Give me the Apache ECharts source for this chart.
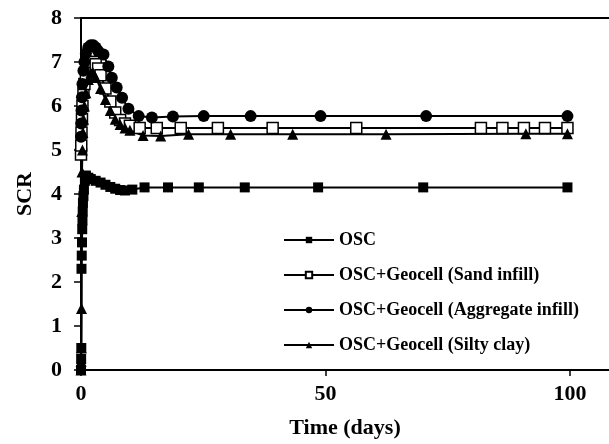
<!DOCTYPE html>
<html>
<head>
<meta charset="utf-8">
<script src="https://cdn.jsdelivr.net/npm/echarts@6/dist/echarts.min.js"></script>
<style>
  html, body { margin: 0; padding: 0; background: #fff; }
  #chart { width: 609px; height: 444px; }
</style>
</head>
<body>
<div id="chart"></div>
<script>
// Stone column ratio (SCR) versus consolidation time, four column types.
var seriesNames = [
  'OSC',
  'OSC+Geocell (Sand infill)',
  'OSC+Geocell (Aggregate infill)',
  'OSC+Geocell (Silty clay)'
];

// OSC (ordinary stone column)
var oscTime = [0, 0.03, 0.06, 0.1, 0.15, 0.2, 0.25, 0.3, 0.35, 0.4, 0.5, 0.6, 0.8, 1.0, 1.5, 2, 3, 4, 5, 6, 7, 8, 9, 10.5, 13, 17.8, 24.1, 33.5, 48.5, 70, 99.5];
var oscScr  = [0, 0.25, 0.5, 2.3, 2.6, 2.9, 3.2, 3.4, 3.6, 3.8, 3.95, 4.1, 4.3, 4.42, 4.37, 4.34, 4.3, 4.26, 4.21, 4.16, 4.12, 4.09, 4.08, 4.1, 4.15, 4.15, 4.15, 4.15, 4.15, 4.15, 4.15];

// Geocell-encased, sand infill
var sandTime = [0, 0.05, 0.1, 0.2, 0.3, 0.5, 0.7, 1.0, 1.5, 2, 2.5, 3, 3.5, 4, 5, 6, 7, 8, 9, 10, 12, 15.5, 20.4, 28, 39.2, 56.3, 81.8, 86.2, 90.6, 94.9, 99.5];
var sandScr  = [4.9, 5.1, 5.4, 5.7, 6.0, 6.3, 6.5, 6.7, 6.9, 7.0, 7.0, 6.95, 6.85, 6.7, 6.4, 6.1, 5.85, 5.68, 5.6, 5.55, 5.5, 5.5, 5.5, 5.5, 5.5, 5.5, 5.5, 5.5, 5.5, 5.5, 5.5];

// Geocell-encased, aggregate infill
var aggTime = [0, 0.05, 0.1, 0.2, 0.3, 0.5, 0.7, 1.0, 1.5, 2, 2.5, 3, 3.5, 4.6, 5.6, 6.3, 7.3, 8.4, 9.7, 11.8, 14.5, 18.8, 25.1, 34.7, 49, 70.6, 99.5];
var aggScr  = [5.3, 5.6, 5.9, 6.2, 6.5, 6.8, 7.0, 7.2, 7.33, 7.38, 7.38, 7.33, 7.25, 7.17, 6.9, 6.64, 6.42, 6.19, 5.94, 5.77, 5.74, 5.76, 5.77, 5.77, 5.77, 5.77, 5.77];

// Geocell-encased, silty clay infill
var clayTime = [0, 0.03, 0.06, 0.1, 0.15, 0.2, 0.3, 0.4, 0.5, 0.7, 1.0, 1.5, 2, 2.5, 3, 4, 5, 6, 7, 8, 9, 10, 12.7, 16.3, 22, 30.6, 43.3, 62.4, 91, 99.5];
var clayScr  = [0, 0.2, 0.5, 1.4, 3.6, 4.5, 5.0, 5.4, 5.7, 6.0, 6.3, 6.6, 6.75, 6.75, 6.65, 6.4, 6.15, 5.9, 5.7, 5.58, 5.5, 5.45, 5.33, 5.32, 5.36, 5.36, 5.36, 5.36, 5.37, 5.37];

var xTicks = [0, 50, 100];
var yTicks = [0, 1, 2, 3, 4, 5, 6, 7, 8];

function pairs(t, v) {
  return t.map(function (x, i) { return [x, v[i]]; });
}

var FONT = '"Liberation Serif", "Times New Roman", serif';

var chart = echarts.init(document.getElementById('chart'), null, { renderer: 'canvas' });

function lineSeries(name, t, v, symbol, size, fill) {
  return {
    name: name,
    type: 'line',
    data: pairs(t, v),
    symbol: symbol,
    symbolSize: size,
    showAllSymbol: true,
    lineStyle: { color: '#000', width: 2 },
    itemStyle: { color: fill, borderColor: '#000', borderWidth: fill === '#fff' ? 1.5 : 0 },
    emphasis: { disabled: true },
    animation: false,
    z: 3
  };
}

chart.setOption({
  animation: false,
  backgroundColor: '#fff',
  grid: { left: 81, right: 0, top: 18, bottom: 73, containLabel: false },
  xAxis: [{
    type: 'value',
    min: 0,
    max: 108,
    interval: 50,
    position: 'bottom',
    name: 'Time (days)',
    nameLocation: 'middle',
    nameGap: 47,
    nameTextStyle: { fontFamily: FONT, fontWeight: 'bold', fontSize: 22, color: '#000' },
    axisLine: { show: true, onZero: false, lineStyle: { color: '#000', width: 2 } },
    axisTick: { show: true, inside: false, length: 6, lineStyle: { color: '#000', width: 1.5 }, customValues: xTicks },
    axisLabel: { fontFamily: FONT, fontWeight: 'bold', fontSize: 22, color: '#000', margin: 13, customValues: xTicks },
    splitLine: { show: false }
  }, {
    type: 'value',
    min: 0,
    max: 108,
    position: 'top',
    axisLine: { show: true, onZero: false, lineStyle: { color: '#000', width: 2 } },
    axisTick: { show: false },
    axisLabel: { show: false },
    splitLine: { show: false }
  }],
  yAxis: {
    type: 'value',
    min: 0,
    max: 8,
    interval: 1,
    name: 'SCR',
    nameLocation: 'middle',
    nameRotate: 90,
    nameGap: 45,
    nameTextStyle: { fontFamily: FONT, fontWeight: 'bold', fontSize: 22, color: '#000' },
    axisLine: { show: true, onZero: false, lineStyle: { color: '#000', width: 2 } },
    axisTick: { show: true, inside: false, length: 7, lineStyle: { color: '#000', width: 1.5 }, customValues: yTicks },
    axisLabel: { fontFamily: FONT, fontWeight: 'bold', fontSize: 22, color: '#000', margin: 19, customValues: yTicks },
    splitLine: { show: false }
  },
  legend: {
    orient: 'vertical',
    left: 278,
    top: 226,
    itemWidth: 50,
    itemHeight: 8,
    itemGap: 17,
    textStyle: { fontFamily: FONT, fontWeight: 'bold', fontSize: 18, color: '#000' },
    data: seriesNames
  },
  series: [
    lineSeries(seriesNames[0], oscTime, oscScr, 'rect', 10, '#000'),
    lineSeries(seriesNames[1], sandTime, sandScr, 'rect', 11, '#fff'),
    lineSeries(seriesNames[2], aggTime, aggScr, 'circle', 12, '#000'),
    lineSeries(seriesNames[3], clayTime, clayScr, 'triangle', 11, '#000')
  ]
});
</script>
</body>
</html>
